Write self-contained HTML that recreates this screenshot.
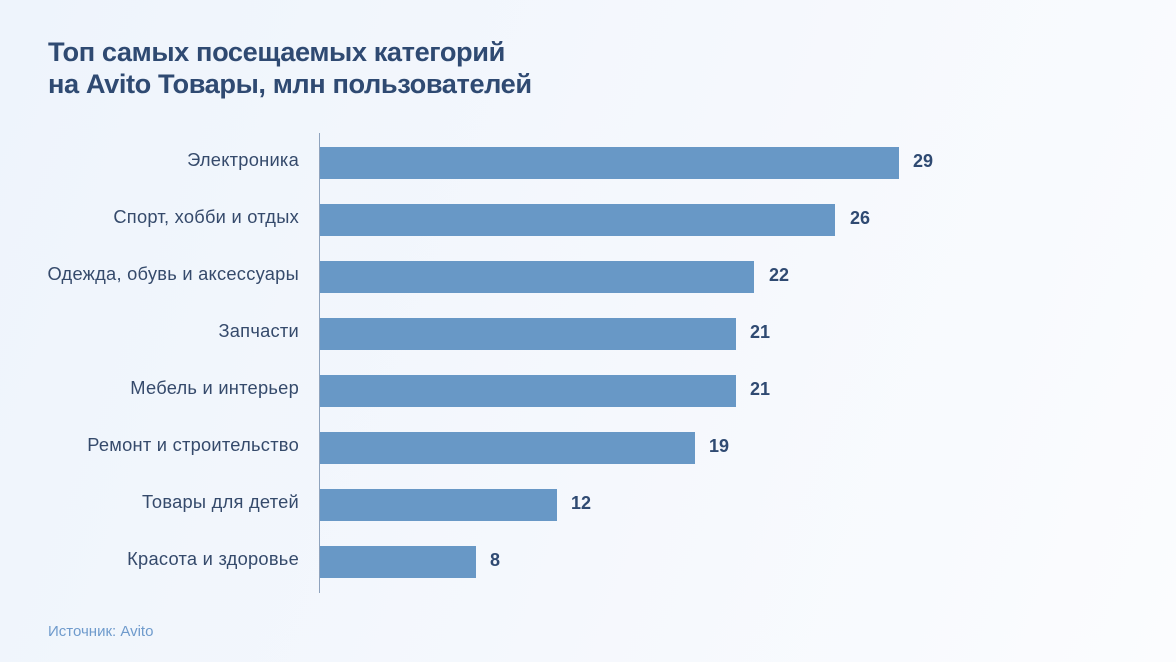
<!DOCTYPE html><html><head><meta charset="utf-8"><style>
body{margin:0;width:1176px;height:662px;overflow:hidden;background:linear-gradient(110deg,#eef4fc 0%,#f5f8fd 55%,#fbfcfe 100%);font-family:"Liberation Sans",sans-serif;position:relative}
.t{position:absolute;left:48px;top:36px;font-size:27.2px;font-weight:bold;color:#2f4a72;line-height:32px;letter-spacing:-0.4px}
.ax{position:absolute;left:319px;top:133px;width:1px;height:460px;background:#8fa3bd}
.b{position:absolute;left:320px;height:32px;background:#6898c6}
.l{position:absolute;right:877px;font-size:18.3px;letter-spacing:0.25px;color:#354a6b;line-height:32px;white-space:nowrap}
.v{position:absolute;font-size:18px;font-weight:bold;color:#2f4a72;line-height:32px}
.s{position:absolute;left:48px;top:623px;font-size:15px;color:#6f9bcc}
</style></head><body>
<div class="t">Топ самых посещаемых категорий<br>на Avito Товары, млн пользователей</div>
<div class="ax"></div>
<div class="l" style="top:144px">Электроника</div><div class="b" style="top:147px;width:579px"></div><div class="v" style="top:145px;left:913px">29</div>
<div class="l" style="top:201px">Спорт, хобби и отдых</div><div class="b" style="top:204px;width:515px"></div><div class="v" style="top:202px;left:850px">26</div>
<div class="l" style="top:258px">Одежда, обувь и аксессуары</div><div class="b" style="top:261px;width:434px"></div><div class="v" style="top:259px;left:769px">22</div>
<div class="l" style="top:315px">Запчасти</div><div class="b" style="top:318px;width:416px"></div><div class="v" style="top:316px;left:750px">21</div>
<div class="l" style="top:372px">Мебель и интерьер</div><div class="b" style="top:375px;width:416px"></div><div class="v" style="top:373px;left:750px">21</div>
<div class="l" style="top:429px">Ремонт и строительство</div><div class="b" style="top:432px;width:375px"></div><div class="v" style="top:430px;left:709px">19</div>
<div class="l" style="top:486px">Товары для детей</div><div class="b" style="top:489px;width:237px"></div><div class="v" style="top:487px;left:571px">12</div>
<div class="l" style="top:543px">Красота и здоровье</div><div class="b" style="top:546px;width:156px"></div><div class="v" style="top:544px;left:490px">8</div>
<div class="s">Источник: Avito</div>
</body></html>
